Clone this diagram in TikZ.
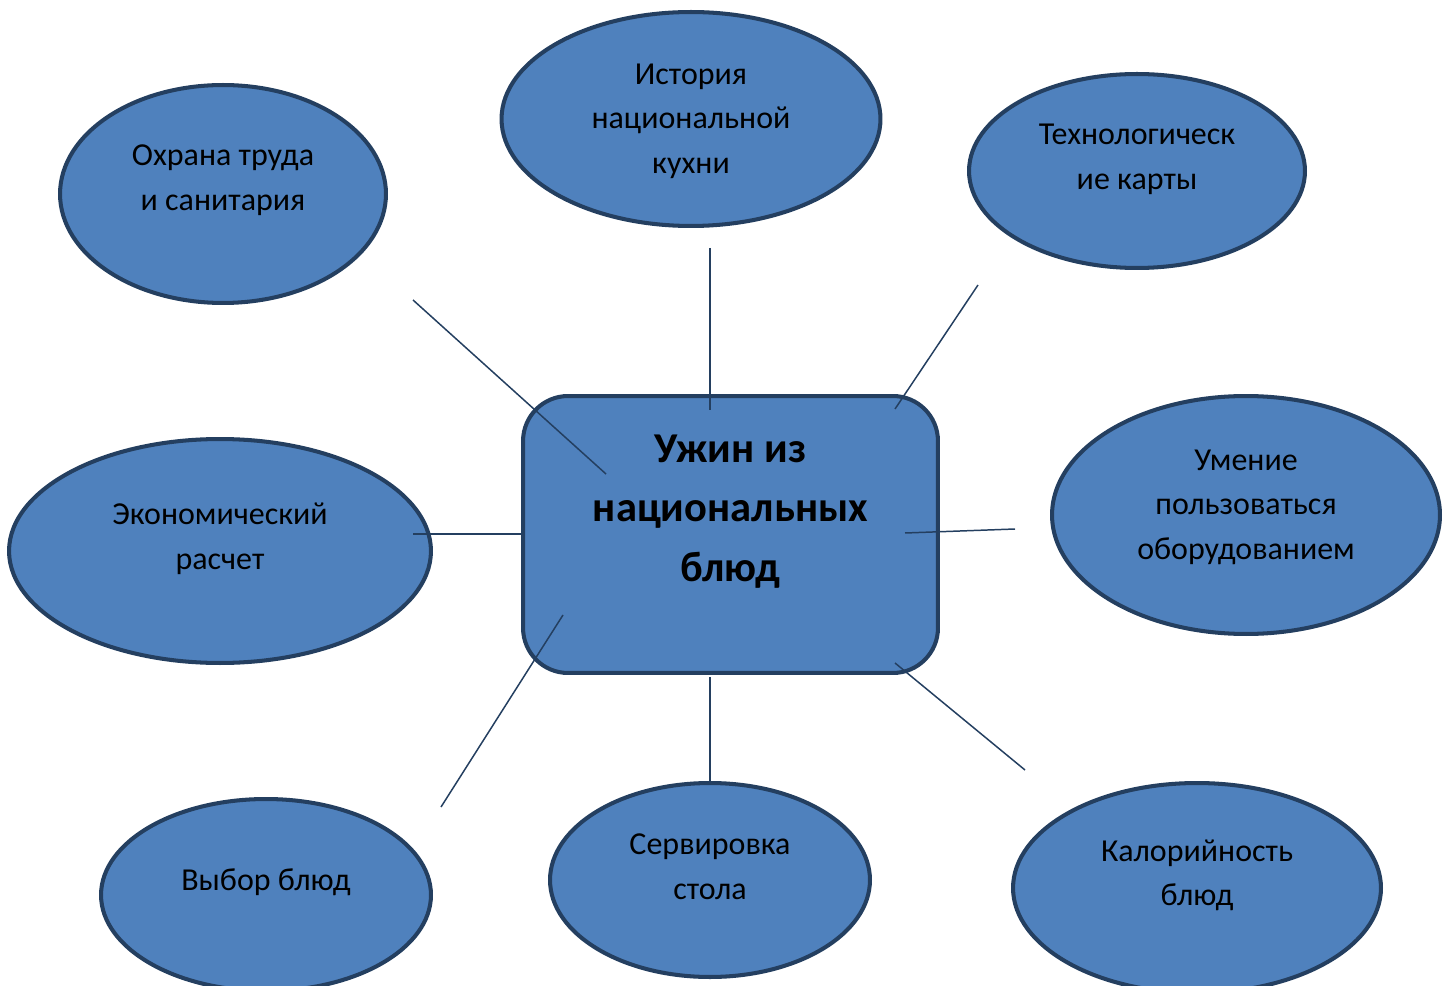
\documentclass[tikz,border=0pt]{standalone}
\usepackage{fontspec}
\setmainfont{Carlito}
\usetikzlibrary{shapes.geometric,positioning}
\definecolor{topicfill}{HTML}{4F81BD}
\definecolor{topicline}{HTML}{243F60}
\tikzstyle{topic} = [ellipse, draw=topicline, fill=topicfill, line width=2.3pt, inner sep=0pt, align=center, font=\fontsize{18.2}{25.5}\selectfont]
\tikzstyle{mainblock} = [rectangle, draw=topicline, fill=topicfill, line width=2.3pt, rounded corners=0.9cm, align=center, minimum width=8.3cm, minimum height=5.54cm, font=\fontsize{24.2}{34}\selectfont\bfseries]
\tikzstyle{line} = [draw=topicline, line width=0.85pt]

\begin{document}
\begin{tikzpicture}[x=0.02cm, y=-0.02cm]
\useasboundingbox (0,0) rectangle (1450,986);
\node [mainblock, text depth=30pt] (dinner) at (730.5,534.5) {Ужин из\\национальных\\блюд};
\node [topic, minimum width=6.52cm, minimum height=4.36cm, text depth=18.5pt] (safety) at (223,194) {Охрана труда\\и санитария};
\node [topic, minimum width=7.58cm, minimum height=4.28cm, text depth=0.4pt] (history) at (691,119) {История\\национальной\\кухни};
\node [topic, minimum width=6.72cm, minimum height=3.88cm, text depth=16.3pt] (cards) at (1137,171) {Технологическ\\ие карты};
\node [topic, minimum width=7.76cm, minimum height=4.76cm, text depth=11.8pt] (equip) at (1246,515) {Умение\\пользоваться\\оборудованием};
\node [topic, minimum width=8.44cm, minimum height=4.48cm, text depth=16.8pt] (econ) at (220,551) {Экономический\\расчет};
\node [topic, minimum width=6.6cm, minimum height=3.84cm, text depth=17.4pt] (choice) at (266,895) {Выбор блюд};
\node [topic, minimum width=6.4cm, minimum height=3.88cm, text depth=15.5pt] (table) at (710,880) {Сервировка\\стола};
\node [topic, minimum width=7.36cm, minimum height=4.2cm, text depth=17.4pt] (calories) at (1197,888) {Калорийность\\блюд};
% free ends of the spokes
\coordinate (safety-a) at (413,300);
\coordinate (safety-b) at (606,474);
\coordinate (history-a) at (710,248);
\coordinate (history-b) at (710,410);
\coordinate (cards-a) at (978,285);
\coordinate (cards-b) at (895,409);
\coordinate (equip-a) at (905,533);
\coordinate (equip-b) at (1015,529);
\coordinate (econ-a) at (413,534);
\coordinate (econ-b) at (523,534);
\coordinate (choice-a) at (563,615);
\coordinate (choice-b) at (441,807);
\coordinate (table-a) at (710,677);
\coordinate (table-b) at (710,782);
\coordinate (calories-a) at (895,663);
\coordinate (calories-b) at (1025,770);
\path [line] (safety-a) -- (safety-b);
\path [line] (history-a) -- (history-b);
\path [line] (cards-a) -- (cards-b);
\path [line] (equip-a) -- (equip-b);
\path [line] (econ-a) -- (econ-b);
\path [line] (choice-a) -- (choice-b);
\path [line] (table-a) -- (table-b);
\path [line] (calories-a) -- (calories-b);
\end{tikzpicture}
\end{document}
